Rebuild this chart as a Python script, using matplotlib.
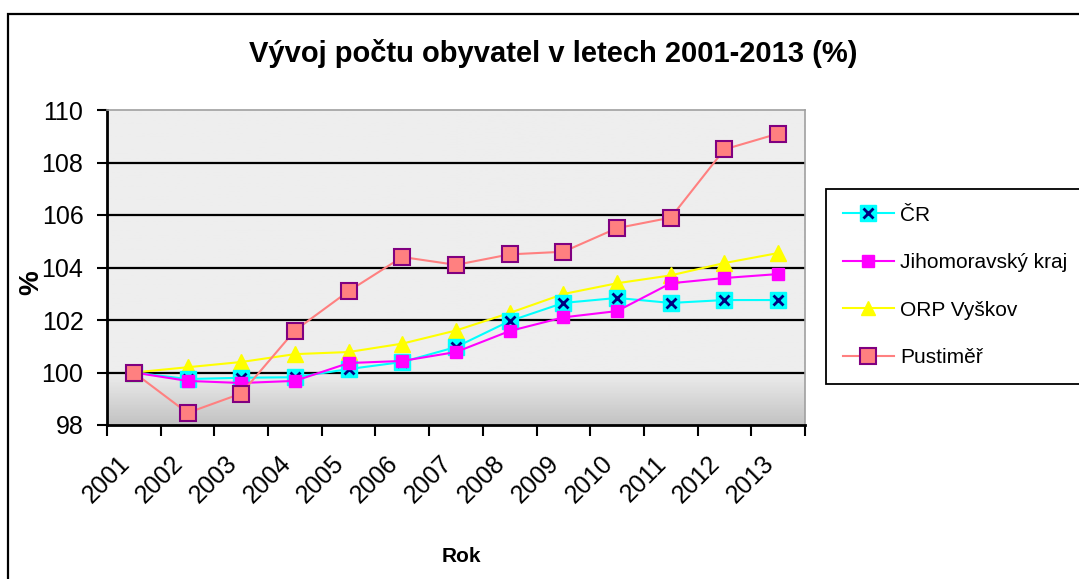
import numpy as np
import matplotlib
matplotlib.use("Agg")
import matplotlib.pyplot as plt
from matplotlib.lines import Line2D
from matplotlib.patches import Rectangle
from matplotlib.transforms import ScaledTranslation

plt.rcParams['font.family'] = ['Liberation Sans', 'DejaVu Sans']

years = ['2001', '2002', '2003', '2004', '2005', '2006', '2007',
         '2008', '2009', '2010', '2011', '2012', '2013']
cr = [100.0, 99.75, 99.8, 99.82, 100.13, 100.4, 100.97, 101.96, 102.65, 102.84, 102.65, 102.76, 102.76]
jmk = [100.0, 99.68, 99.6, 99.68, 100.36, 100.44, 100.78, 101.58, 102.1, 102.34, 103.4, 103.6, 103.75]
orp = [100.0, 100.2, 100.4, 100.7, 100.78, 101.1, 101.6, 102.27, 102.99, 103.4, 103.7, 104.17, 104.55]
pust = [100.0, 98.46, 99.2, 101.6, 103.1, 104.4, 104.1, 104.5, 104.6, 105.5, 105.9, 108.5, 109.1]

fig = plt.figure(figsize=(10.79, 5.79), dpi=100)
ax = fig.add_axes([107/1079, 1 - 425/579, 698/1079, 315/579])

# background: flat light grey, gradient to darker grey near the bottom
t = np.linspace(0, 1, 200)
vals = np.where(t < 0.83, 0.933, 0.933 - (t - 0.83) / 0.17 * 0.17)
ax.imshow(vals[:, None], extent=[0, 13, 98, 110], aspect='auto', cmap='gray',
          vmin=0, vmax=1, zorder=0, origin='upper')

x = np.arange(len(years)) + 0.5

for yv in [100, 102, 104, 106, 108]:
    ax.axhline(yv, color='black', lw=1.6, zorder=1)

ax.plot(x, cr, color='#00FFFF', lw=1.5, zorder=3)
ax.plot(x, cr, ls='none', marker='s', ms=12, mfc='#00FFFF', mec='#00FFFF', zorder=4)
ax.plot(x, cr, ls='none', marker='x', ms=7, mew=2, color='#000080', zorder=5)
ax.plot(x, jmk, color='#FF00FF', lw=1.5, marker='s', ms=8, mfc='#FF00FF', mec='#FF00FF', zorder=6)
ax.plot(x, orp, color='#FFFF00', lw=1.5, marker='^', ms=11, mfc='#FFFF00', mec='#FFFF00', zorder=3)
ax.plot(x, pust, color='#FF8080', lw=1.5, marker='s', ms=12, mfc='#FF8080', mec='#800080', mew=1.5, zorder=7)

ax.set_xlim(0, 13)
ax.set_ylim(98, 110)
ax.set_yticks([98, 100, 102, 104, 106, 108, 110])
ax.tick_params(axis='y', labelsize=18, length=7, width=1.5, direction='out', pad=10)
ax.set_xticks(np.arange(14))
ax.set_xticklabels([])
ax.tick_params(axis='x', which='major', length=8, width=1.5, direction='out')
ax.set_xticks(x, minor=True)
ax.set_xticklabels(years, minor=True, rotation=45, ha='right', va='center',
                   rotation_mode='anchor', fontsize=18)
ax.tick_params(axis='x', which='minor', length=0, pad=25)
shift = ScaledTranslation(-8/100, 0, fig.dpi_scale_trans)
for lab in ax.get_xticklabels(minor=True):
    lab.set_transform(lab.get_transform() + shift)

for s in ['left', 'bottom']:
    ax.spines[s].set_linewidth(2)
    ax.spines[s].set_color('black')
for s in ['top', 'right']:
    ax.spines[s].set_color('#a0a0a0')
    ax.spines[s].set_linewidth(1.2)

fig.text(553/1079, 1 - 53/579, 'Vývoj počtu obyvatel v letech 2001-2013 (%)', ha='center', va='center',
         fontsize=21, fontweight='bold')
fig.text(461/1079, 1 - 556/579, 'Rok', ha='center', va='center', fontsize=15, fontweight='bold')
fig.text(31/1079, 1 - 283/579, '%', ha='center', va='center', fontsize=20, fontweight='bold', rotation=90)

# outer chart frame (cut at right and bottom)
fig.patches.append(Rectangle((8/1079, -0.05), 1.1, 1 - 14/579 + 0.05, transform=fig.transFigure,
                             fill=False, ec='black', lw=1.6))

h_cr = (Line2D([], [], color='#00FFFF', lw=1.5, marker='s', ms=12, mfc='#00FFFF', mec='#00FFFF'),
        Line2D([], [], ls='none', marker='x', ms=7, mew=2, color='#000080'))
h_jmk = Line2D([], [], color='#FF00FF', lw=1.5, marker='s', ms=8, mfc='#FF00FF', mec='#FF00FF')
h_orp = Line2D([], [], color='#FFFF00', lw=1.5, marker='^', ms=10, mfc='#FFFF00', mec='#FFFF00')
h_pust = Line2D([], [], color='#FF8080', lw=1.5, marker='s', ms=12, mfc='#FF8080', mec='#800080', mew=1.5)
leg = fig.legend([h_cr, h_jmk, h_orp, h_pust], ['ČR', 'Jihomoravský kraj', 'ORP Vyškov', 'Pustiměř'],
                 loc='upper left', bbox_to_anchor=(826/1079, 1 - 189/579), borderaxespad=0, fontsize=15,
                 frameon=True, fancybox=False, edgecolor='black', framealpha=1,
                 handlelength=2.45, labelspacing=1.37, borderpad=0.8, handletextpad=0.3)
leg.get_frame().set_linewidth(1.3)

fig.savefig('out.png', dpi=100)
